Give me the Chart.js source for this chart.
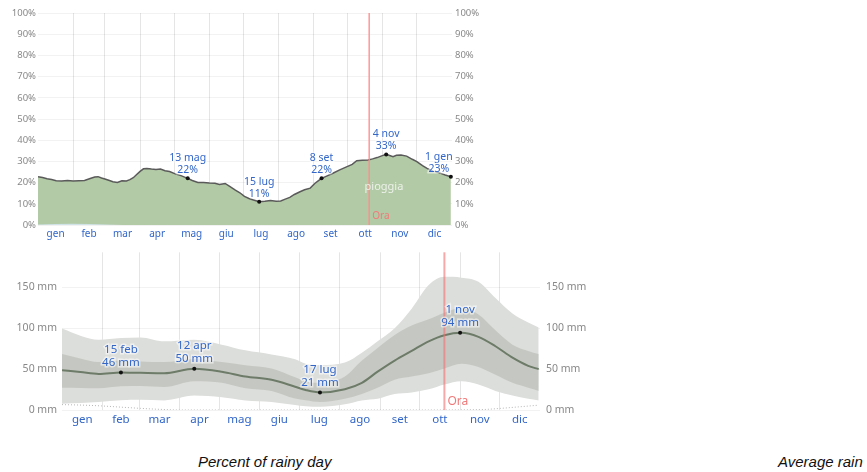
<!DOCTYPE html>
<html>
<head>
<meta charset="utf-8">
<style>
  body { margin: 0; background: #fff; width: 867px; height: 472px; overflow: hidden; position: relative; font-family: "Noto Sans", sans-serif; }
  #topWrap { position: absolute; left: 0; top: 0; width: 490px; height: 240px; }
  #botWrap { position: absolute; left: 0; top: 240px; width: 600px; height: 190px; }
  .cap { position: absolute; top: 453px; line-height: 18px; font: italic 15px "Liberation Sans", Arial, sans-serif; color: #111; white-space: nowrap; }
</style>
</head>
<body>
<div id="topWrap"><canvas id="rainyChart"></canvas></div>
<div id="botWrap"><canvas id="rainChart"></canvas></div>
<div class="cap" style="left:198px">Percent of rainy day</div>
<div class="cap" style="left:778px">Average rain</div>

<script src="https://cdn.jsdelivr.net/npm/chart.js"></script>
<script>
const months = ['gen', 'feb', 'mar', 'apr', 'mag', 'giu', 'lug', 'ago', 'set', 'ott', 'nov', 'dic'];
const monthStart = [0, 31, 59, 90, 120, 151, 181, 212, 243, 273, 304, 334, 365];
const nowDay = 292;

// percent of rainy days (day of year -> %)
const rainyDays = [0, 4, 8, 12, 16, 21, 26, 31, 36, 41, 46, 50, 53, 56, 59, 63, 66, 70, 74, 78, 81, 84, 87, 90, 93, 96, 100, 104, 108, 112, 116, 121, 126, 132, 136, 141, 146, 151, 156, 160, 165, 169, 174, 178, 182, 186, 190, 195, 200, 205, 210, 214, 218, 222, 226, 231, 235, 240, 244, 247, 250, 255, 260, 266, 272, 277, 281, 286, 291, 295, 299, 303, 307, 310, 313, 316, 320, 325, 330, 334, 339, 343, 348, 354, 359, 364];
const rainyPct = [22.8, 22.4, 21.8, 21.5, 20.9, 20.8, 21.0, 20.8, 20.9, 21.0, 21.9, 22.6, 22.8, 22.2, 21.7, 21.0, 20.4, 20.1, 20.9, 20.8, 21.4, 22.3, 23.8, 25.3, 26.5, 26.7, 26.4, 26.2, 26.4, 25.6, 25.2, 24.1, 23.3, 22.0, 21.0, 20.1, 20.0, 19.8, 19.7, 19.1, 19.6, 18.2, 16.4, 15.2, 13.5, 12.5, 11.8, 11.0, 11.2, 11.5, 11.2, 11.3, 12.2, 13.0, 14.4, 15.7, 16.6, 17.4, 19.6, 20.8, 22.0, 23.2, 24.4, 26.0, 27.4, 28.6, 30.3, 30.5, 30.7, 31.2, 31.8, 32.6, 33.3, 32.8, 32.2, 32.9, 33.0, 32.5, 31.0, 29.9, 28.0, 26.7, 25.4, 24.6, 23.6, 22.8];
const snowDaysTop = [0, 15, 30, 45, 60, 75];
const snowPct = [0.2, 0.5, 0.6, 0.5, 0.2, 0];
const rainyNoteDays = [132, 195, 250, 307, 364];
const rainyNoteVals = [22.0, 11.0, 22.0, 33.3, 22.8];
const rainyNoteText = [['13 mag', '22%'], ['15 lug', '11%'], ['8 set', '22%'], ['4 nov', '33%'], ['1 gen', '23%']];

// average rainfall (mm), median and percentile bands
const rainDays = [0, 14, 28, 45, 60, 78, 101, 122, 140, 160, 178, 186, 197, 216, 229, 241, 254, 267, 280, 292, 305, 318, 331, 344, 356, 364];
const rainMedian = [48.8, 46.5, 44.1, 46.0, 45.5, 45.0, 50.5, 46.9, 41.0, 37.0, 28.5, 24.5, 21.5, 25.4, 33.2, 46.9, 60.5, 72.3, 84.0, 91.5, 94.5, 89.5, 78.0, 64.0, 54.0, 50.0];
const rainP90 = [99.6, 91, 86, 88, 88.7, 84, 86, 80, 73, 68, 62, 56.6, 55, 58, 70, 84, 100, 124, 153, 163, 162, 157, 137, 118, 107, 101];
const rainP75 = [68.4, 63, 58.6, 60.5, 59.5, 58.6, 62.5, 58.6, 54.7, 50.8, 40, 35, 33.2, 41, 60.5, 76, 91.8, 103.5, 111, 119, 125, 117, 97.6, 80, 72.3, 68.4];
const rainP25 = [27.3, 27, 26.6, 29, 29.3, 28.1, 35.2, 33.2, 26.6, 23.4, 14, 12, 9.8, 13.7, 19.5, 27.3, 37, 41, 45, 50.8, 56.6, 52.7, 43, 33.2, 27.3, 23.4];
const rainP10 = [7.8, 8.5, 9.8, 12, 12.5, 11.7, 17.6, 15.6, 11.7, 9.8, 6, 4.5, 3.9, 7, 11.7, 13.7, 19.5, 21.5, 25.4, 31.2, 35.2, 31.2, 23.4, 17.6, 13.7, 11.7];
const snowDays = [0, 15, 30, 45, 60, 75, 90, 180, 270, 320, 335, 350, 364];
const snowMm = [6.6, 6, 5, 3.5, 2, 0.8, 0, 0, 0, 0.5, 2, 4, 5.9];
const rainNoteDays = [45, 101, 197, 304];
const rainNoteVals = [46, 50.5, 21.5, 94.5];
const rainNoteText = [['15 feb', '46 mm'], ['12 apr', '50 mm'], ['17 lug', '21 mm'], ['1 nov', '94 mm']];

const monthMid = months.map((m, i) => (monthStart[i] + monthStart[i + 1]) / 2);
const pts = (xs, ys) => xs.map((x, i) => ({ x: x, y: ys[i] }));
const BLUE = '#3266c8';

// draws the "Ora" line, the marked points with their labels, and an optional tag
function callouts(o) {
  return {
    id: 'callouts',
    afterDraw(chart) {
      const { ctx, chartArea: a, scales } = chart;
      const xs = scales.x, ys = scales.y;
      ctx.save();
      const nx = xs.getPixelForValue(nowDay);
      ctx.fillStyle = o.nowColor;
      ctx.fillRect(nx - o.nowWidth / 2, a.top, o.nowWidth, a.bottom - a.top);
      ctx.font = o.nowFont;
      ctx.fillStyle = '#f07a7a';
      ctx.textAlign = 'left';
      ctx.textBaseline = 'alphabetic';
      ctx.fillText('Ora', nx + 3, a.bottom - o.nowLift);
      if (o.tag) {
        ctx.font = o.tag.font;
        ctx.fillStyle = 'rgba(255,255,255,0.75)';
        ctx.textAlign = 'center';
        ctx.textBaseline = 'middle';
        ctx.fillText(o.tag.text, xs.getPixelForValue(o.tag.d), ys.getPixelForValue(o.tag.v));
      }
      o.days.forEach((d, i) => {
        const px = xs.getPixelForValue(d), py = ys.getPixelForValue(o.values[i]);
        ctx.fillStyle = '#111';
        ctx.beginPath(); ctx.arc(px, py, 2, 0, Math.PI * 2); ctx.fill();
        const tx = px + ((o.shift && o.shift[i]) || 0);
        ctx.font = o.font;
        ctx.textAlign = 'center';
        ctx.textBaseline = 'middle';
        ctx.lineWidth = 3;
        ctx.strokeStyle = 'rgba(255,255,255,0.55)';
        o.text[i].forEach((line, k) => {
          const ty = py - (k === 0 ? o.gap1 : o.gap2);
          ctx.strokeText(line, tx, ty);
          ctx.fillStyle = BLUE;
          ctx.fillText(line, tx, ty);
        });
      });
      ctx.restore();
    }
  };
}

function xAxes(labelSize, labelHeight, pad) {
  return {
    x: {
      type: 'linear', position: 'bottom', min: 0, max: 365,
      border: { display: false },
      grid: { display: false, drawTicks: false },
      afterBuildTicks(s) { s.ticks = monthMid.map(v => ({ value: v })); },
      ticks: { color: BLUE, font: { size: labelSize }, padding: pad, autoSkip: false, maxRotation: 0, callback: (v, i) => months[i] },
      afterFit(s) { s.height = labelHeight; }
    },
    xg: {
      type: 'linear', position: 'bottom', min: 0, max: 365, z: 1,
      border: { display: false },
      ticks: { display: false },
      grid: { color: 'rgba(0,0,0,0.1)', drawTicks: false },
      afterBuildTicks(s) { s.ticks = monthStart.slice(1, 12).map(v => ({ value: v })); },
      afterFit(s) { s.height = 0; }
    }
  };
}

Chart.defaults.font.family = '"Noto Sans", sans-serif';

new Chart(document.getElementById('rainyChart'), {
  type: 'line',
  data: {
    datasets: [
      { data: pts(snowDaysTop, snowPct), fill: 'origin', backgroundColor: 'rgba(215,233,246,0.8)', borderWidth: 0, pointRadius: 0 },
      { data: pts(rainyDays, rainyPct), fill: 'origin', backgroundColor: 'rgb(179,202,166)', borderColor: '#5a5a5a', borderWidth: 1.5, pointRadius: 0, tension: 0 }
    ]
  },
  options: {
    responsive: true, maintainAspectRatio: false, animation: false,
    layout: { padding: { top: 13, left: 0, right: 0, bottom: 0 } },
    plugins: { legend: { display: false }, tooltip: { enabled: false } },
    scales: Object.assign(xAxes(10, 15, 3), {
      y: {
        position: 'left', min: 0, max: 100, z: 1,
        border: { display: false },
        grid: { color: 'rgba(0,0,0,0.05)', drawTicks: false },
        ticks: { stepSize: 10, color: '#888', font: { size: 9.5 }, padding: 2, callback: v => v + '%' },
        afterFit(s) { s.width = 38; }
      },
      y2: {
        position: 'right', min: 0, max: 100,
        border: { display: false },
        grid: { display: false, drawTicks: false },
        ticks: { stepSize: 10, color: '#888', font: { size: 9.5 }, padding: 3, callback: v => v + '%' },
        afterFit(s) { s.width = 38; }
      }
    })
  },
  plugins: [callouts({
    nowColor: 'rgba(255,140,140,0.85)', nowWidth: 1.6, nowFont: '10px "Noto Sans"', nowLift: 6,
    days: rainyNoteDays, values: rainyNoteVals, text: rainyNoteText, shift: [0, 0, 0, 0, -12],
    font: '10.5px "Noto Sans"', gap1: 20, gap2: 8,
    tag: { text: 'pioggia', d: 305, v: 18.2, font: '11px "Noto Sans"' }
  })]
});

const mmTicks = s => { s.ticks = [0, 50, 100, 150].map(v => ({ value: v })); };

new Chart(document.getElementById('rainChart'), {
  type: 'line',
  data: {
    datasets: [
      { data: pts(rainDays, rainMedian), fill: false, borderColor: '#6d7b68', borderWidth: 2, pointRadius: 0, cubicInterpolationMode: 'monotone' },
      { data: pts(snowDays, snowMm), fill: false, borderColor: '#b5b5b5', borderWidth: 1, borderDash: [1, 2], pointRadius: 0, cubicInterpolationMode: 'monotone' },
      { data: pts(rainDays, rainP75), fill: '+1', backgroundColor: '#c5c8c2', borderWidth: 0, pointRadius: 0, cubicInterpolationMode: 'monotone' },
      { data: pts(rainDays, rainP25), fill: false, borderWidth: 0, pointRadius: 0, cubicInterpolationMode: 'monotone' },
      { data: pts(rainDays, rainP90), fill: '+1', backgroundColor: '#dcdedb', borderWidth: 0, pointRadius: 0, cubicInterpolationMode: 'monotone' },
      { data: pts(rainDays, rainP10), fill: false, borderWidth: 0, pointRadius: 0, cubicInterpolationMode: 'monotone' }
    ]
  },
  options: {
    responsive: true, maintainAspectRatio: false, animation: false,
    layout: { padding: { top: 5, left: 0, right: 0, bottom: 0 } },
    plugins: { legend: { display: false }, tooltip: { enabled: false } },
    scales: Object.assign(xAxes(11.5, 20, 3), {
      y: {
        position: 'left', min: 0, max: 193, z: 1,
        border: { display: false },
        grid: { color: 'rgba(0,0,0,0.05)', drawTicks: false },
        afterBuildTicks: mmTicks,
        ticks: { color: '#888', font: { size: 10.5 }, padding: 5, callback: v => v + ' mm' },
        afterFit(s) { s.width = 62; }
      },
      y2: {
        position: 'right', min: 0, max: 193,
        border: { display: false },
        grid: { display: false, drawTicks: false },
        afterBuildTicks: mmTicks,
        ticks: { color: '#888', font: { size: 10.5 }, padding: 6, callback: v => v + ' mm' },
        afterFit(s) { s.width = 60; }
      }
    })
  },
  plugins: [callouts({
    nowColor: 'rgba(245,110,110,0.6)', nowWidth: 2, nowFont: '12px "Noto Sans"', nowLift: 5,
    days: rainNoteDays, values: rainNoteVals, text: rainNoteText,
    font: '11.5px "Noto Sans"', gap1: 23, gap2: 10
  })]
});
</script>
</body>
</html>
